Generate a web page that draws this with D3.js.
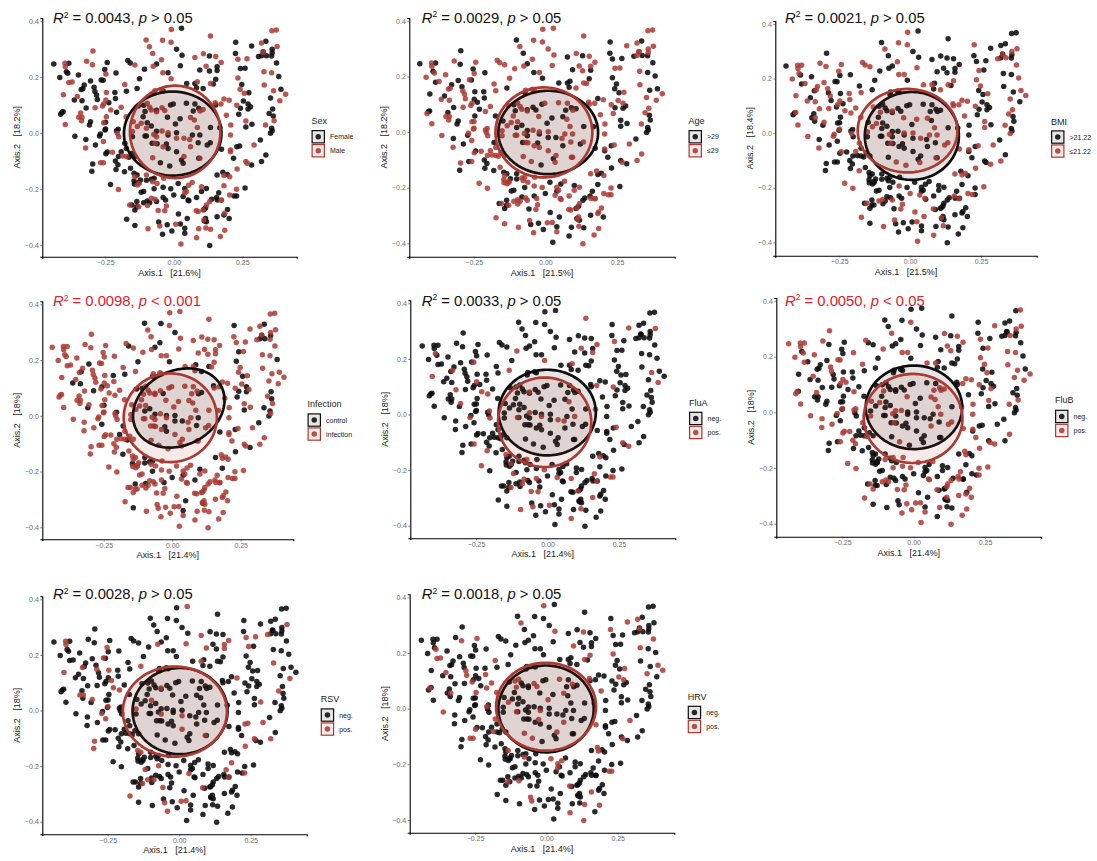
<!DOCTYPE html>
<html>
<head>
<meta charset="utf-8">
<title>PCoA panels</title>
<script src="https://cdn.jsdelivr.net/npm/d3@7"></script>
<style>
  body { margin: 0; background: #fff; }
  svg { display: block; font-family: "Liberation Sans", Arial, sans-serif; }
  text { white-space: pre; }
</style>
</head>
<body>
<svg id="chart" width="1097" height="861"></svg>
<script>
// ordination, [axis1, axis2]
var femaleSamples = [[-.438,.246],[-.383,.249],[-.392,.219],[-.387,.213],[-.416,.198],[-.348,.207],[-.243,.252],[-.252,.227],[-.211,.214],[-.304,.186],[-.327,.171],[-.332,.158],[-.338,.155],[-.291,.163],[-.288,.148],[-.363,.118],[-.335,.115],[-.282,.136],[-.279,.120],[-.265,.189],[-.258,.188],[-.215,.145],[-.213,.123],[-.237,.108],[-.320,.089],[-.209,.074],[-.408,.074],[-.404,.076],[-.413,.067],[-.304,.040],[-.308,.029],[-.361,-.012],[-.321,-.023],[-.286,-.043],[-.268,-.004],[-.271,-.011],[-.249,.014],[-.251,.011],[-.249,.038],[-.203,.013],[-.209,.008],[-.243,-.068],[-.248,-.074],[-.296,-.111],[-.299,-.137],[-.213,-.100],[-.202,-.084],[-.192,-.067],[-.211,-.130],[-.204,-.113],[-.180,-.138],[-.158,-.126],[-.231,-.184],
[-.168,.259],[-.159,.250],[-.107,.228],[-.125,.194],[-.173,.149],[-.134,.159],[-.063,.246],[.028,.374],[.010,.299],[.030,.278],[.024,.240],[-.021,.215],[.047,.177],[.077,.177],[.095,.225],[.130,.275],[.130,.221],[.158,.237],[.158,.223],[.153,.192],[.144,.175],[.083,.162],[.107,.159],[.226,.324],[.225,.284],[.284,.311],[.336,.328],[.326,.290],[.309,.273],[.320,.276],[.338,.276],[.357,.275],[.359,.299],[.359,.287],[.375,.250],[.383,.202],[.391,.156],[.353,.125],[.243,.230],[.260,.231],[.248,.173],[.274,.144],[.254,.114],[.243,.088],[.271,.104],[.280,.094],[.271,.086],[.237,.067],[.361,.086],[.348,.070],[.363,.061],[.285,.031],[.263,.021],[.357,.017],[.359,.008],[.353,-.001],[.316,-.025],[.230,-.049],[.240,-.046],[.218,-.090],[.336,-.079],[.320,-.102],[.284,-.114],[.260,-.196],[.220,-.225],[.229,-.225],[.196,-.273],[.183,-.293],[.202,-.305],
[-.130,.096],[-.110,.099],[-.105,.077],[-.063,.081],[-.012,.100],[-.002,.104],[.077,.104],[.071,.079],[.023,.051],[-.023,.056],[-.097,.037],[-.082,.025],[-.105,-.011],[-.100,-.011],[-.063,.006],[-.021,-.007],[.010,.001],[.006,.032],[.095,-.007],[.134,.020],[.168,.019],[.068,-.007],[.089,-.035],[.133,-.035],[.122,-.043],[-.027,-.039],[-.021,-.055],[-.061,-.038],[.010,-.067],[.028,-.096],[-.015,-.118],[-.049,-.106],[-.079,-.037],[.034,-.108],[.091,.088],[.046,.106],[-.112,.058],[-.071,.142],[-.039,.150],[.153,.100],[.174,-.058],[.091,-.090],[-.151,-.013],[-.179,-.037],[-.173,-.055],[-.155,-.073],[-.142,-.084],[-.164,-.087],
[-.145,-.144],[-.134,-.150],[-.145,-.171],[-.128,-.177],[-.144,-.182],[-.122,-.168],[-.100,-.169],[-.082,-.165],[-.072,-.162],[-.110,-.209],[-.119,-.212],[-.072,-.199],[-.039,-.194],[-.011,-.199],[.016,-.180],[.040,-.198],[-.135,-.245],[-.153,-.257],[-.135,-.263],[-.142,-.275],[-.110,-.249],[-.097,-.243],[-.088,-.249],[-.063,-.245],[-.039,-.230],[-.030,-.239],[0,-.221],[.034,-.227],[.052,-.239],[.055,-.242],[.083,-.230],[.101,-.209],[.119,-.198],[.138,-.237],[.156,-.230],[.159,-.239],[.164,-.213],[.116,-.267],[.110,-.273],[.158,-.150],[.179,-.140],[.195,-.148],[-.172,-.308],[-.142,-.330],[-.055,-.318],[-.024,-.328],[.017,-.289],[.049,-.305],[.024,-.325],[.040,-.340],[.040,-.358],[-.041,-.362],[-.007,-.350],[.116,-.305],[.119,-.317],[.112,-.314],[.158,-.299],[.131,-.402]];

var maleSamples = [[-.397,.249],[-.396,.237],[-.295,.293],[-.318,.256],[-.297,.244],[-.248,.211],[-.383,.180],[-.371,.182],[-.403,.137],[-.352,.130],[-.246,.145],[-.256,.104],[-.248,.118],[-.260,.096],[-.287,.090],[-.230,.082],[-.192,.092],[-.340,.071],[-.335,.056],[-.347,.056],[-.337,.044],[-.396,.030],[-.246,.058],[-.256,.037],[-.322,-.054],[-.257,-.030],[-.201,-.013],[-.206,-.001],[-.224,-.069],[-.267,-.106],[-.257,-.106],[-.186,-.082],[-.202,-.202],[-.179,.173],[-.142,.243],[-.077,.284],[-.089,.308],[-.101,.332],[-.041,.331],[-.009,.370],[-.010,.324],[.134,.346],[.077,.270],[.108,.283],[.153,.273],[.173,.252],[.118,.238],[-.045,.262],[-.075,.238],[-.040,.215],[-.010,.194],[.134,.177],[.086,.183],[.234,.263],[.267,.265],[.234,.196],[.242,.156],[.257,.142],[.320,.321],[.374,.368],[.358,.365],[.377,.309],[.327,.288],[.329,.219],[.357,.215],[.330,.171],[.364,.151],[.408,.138],[.387,.115],[.183,.121],[.202,.117],[.151,.108],[.172,.104],[.192,.063],[.230,.099],[.263,.043],[.335,.029],[.366,.044],[.293,-.043],[.207,-.061],[.207,-.067],[.263,-.102],[.268,-.108],[.231,-.129],[.204,-.156],[.183,-.152],[.229,-.201],[.204,-.221],[.174,-.239],[.183,-.188],[.101,-.192],[.067,-.177],[.054,-.187],[.046,-.209],[-.037,-.162],[-.077,-.174],[-.100,-.150],[-.133,-.186],[-.173,-.084],[-.061,-.180],[-.142,-.156],
[-.174,.058],[-.148,.040],[-.119,.035],[-.088,.092],[-.063,.076],[-.043,.090],[-.033,.080],[-.100,.017],[-.133,.023],[-.151,.005],[-.073,-.005],[-.063,-.013],[-.043,.007],[-.021,.001],[.010,-.019],[.037,-.019],[.058,-.023],[.086,.020],[.096,.079],[.107,.084],[.061,.055],[.075,.046],[-.068,-.037],[-.039,-.049],[.061,-.049],[-.077,-.088],[.095,-.090],[.037,-.084],[-.045,.154],[-.069,.151],[-.097,.106],[-.082,.082],[.207,-.007],[.208,.029],
[-.094,-.342],[-.051,-.332],[.007,-.326],[.083,-.374],[.091,-.342],[.117,-.339],[.134,-.344],[.170,-.370],[.186,-.347],[.026,-.396],[.186,-.287],[.110,-.311],[.082,-.278],[.089,-.280],[.107,-.275],[.131,-.245],[.119,-.257],[.173,-.240],[.040,-.213],[-.027,-.261],[-.057,-.277],[-.033,-.278],[-.096,-.259],[-.128,-.263],[-.161,-.257],[-.082,-.233],[-.069,-.237],[-.127,-.180]];

// samples seen in one colour in the other panels, the rest are in the other group
var olderSamples = [[-.434,.258],[-.378,.258],[-.387,.229],[-.382,.191],[-.399,.149],[-.414,.076],[-.405,.088],[-.347,.139],[-.329,.166],[-.323,.181],[-.300,.193],[-.288,.299],[-.291,.251],[-.255,.193],[-.245,.154],[-.243,.119],[-.249,.125],[-.234,.115],[-.228,.089],[-.244,.062],[-.210,.151],[-.208,.218],[-.247,.233],[-.316,.100],[-.337,.082],[-.302,.052],[-.307,.037],[-.323,-.013],[-.267,-.014],[-.288,-.035],[-.243,-.059],[-.304,-.130],[-.269,-.098],[-.216,-.097],[-.206,-.109],[-.216,-.128],[-.186,-.133],[-.173,.061],[-.131,.160],[-.092,.334],[-.070,.286],[-.056,.250],[-.035,.214],[-.010,.193],[.050,.173],[.092,.175],[.100,.187],[.084,.268],[.136,.271],[.098,.223],[.170,.185],[.160,.205],[.235,.317],[.233,.277],[.243,.256],[.273,.256],[.344,.317],[.315,.262],[.342,.269],[.366,.274],[.380,.238],[.359,.205],[.388,.190],[.369,.137],[.394,.142],[.255,.193],[.237,.190],[.243,.149],[.260,.133],[.284,.097],[.274,.091],[.245,.077],[.281,.058],[.263,.034],[.260,.011],[.350,.055],[.363,.046],[.363,.029],[.351,.001],[.350,-.011],[.313,-.037],[.234,-.055],[.202,-.067],[.214,-.103],[.241,-.113],[.252,-.113],[.276,-.128],[.251,-.206],[.170,-.161],[.179,-.164],[.184,-.199],[.165,-.221],[.151,-.223],[.144,-.239],[.144,-.245],[.112,-.266],[.100,-.278],[.170,-.299],[.187,-.314],[.150,-.305],[.144,-.317],[.100,-.319],[.074,-.347],[.067,-.379],[.010,-.401],[.031,-.343],[.037,-.307],[.005,-.290],[-.017,-.353],[-.037,-.329],[-.063,-.332],[-.071,-.278],[-.152,-.275],[-.144,-.242],[-.160,-.253],[-.137,-.257],[-.123,-.209],[-.112,-.216],[-.071,-.197],[-.079,-.233],[-.040,-.235],[-.007,-.223],[.031,-.215],[.008,-.182],[.060,-.188],[.092,-.191],[-.126,-.145],[-.147,-.143],[-.105,-.146],[-.129,-.169],[-.099,-.167],[-.123,.133],[-.088,.133],[-.106,.073],[-.071,.079],[-.045,.091],[-.036,.073],[-.010,.097],[.026,.052],[.069,.053],[.074,.079],[.100,.091],[.115,.067],[-.100,.025],[-.083,.022],[-.065,.016],[-.150,.029],[-.170,-.029],[-.079,-.029],[-.059,-.005],[-.030,-.005],[-.030,-.047],[.001,-.017],[.008,.019],[.037,-.023],[.057,-.053],[.121,-.041],[.156,-.047],[.167,.031],[.133,.013],[.026,-.089],[.005,-.107],[.086,.163],[.179,.115]];

var lowBmiSamples = [[-.395,.257],[-.380,.259],[-.388,.233],[-.386,.224],[-.413,.209],[-.368,.192],[-.327,.178],[-.336,.163],[-.402,.148],[-.361,.127],[-.336,.124],[-.315,.273],[-.294,.249],[-.252,.231],[-.242,.257],[-.303,.194],[-.291,.160],[-.278,.145],[-.319,.099],[-.287,.098],[-.254,.106],[-.245,.121],[-.231,.093],[-.213,.155],[-.219,.131],[-.213,.076],[-.192,.094],[-.405,.084],[-.398,.044],[-.330,.054],[-.310,.039],[-.362,.001],[-.325,-.044],[-.270,.001],[-.254,.021],[-.266,-.016],[-.247,-.061],[-.201,-.059],[-.205,-.007],[-.187,-.132],[-.239,-.176],[-.207,-.196],[-.181,-.304],[-.105,-.339],[-.064,-.312],[-.025,-.270],[-.042,-.278],[-.148,-.251],[-.119,-.243],[-.095,-.245],[-.072,-.261],[-.051,-.196],[-.009,-.217],[.007,-.294],[.038,-.306],[.016,-.328],[.013,-.399],[.071,-.379],[.099,-.318],[.108,-.349],[.069,-.282],[.026,-.233],[.044,-.245],[.148,-.221],[.167,-.251],[.207,-.233],[.219,-.233],[.252,-.206],[.148,-.160],[.167,-.154],[.193,-.135],[.242,-.111],[.275,-.127],[.313,-.111],[.289,-.051],[.247,-.070],[.219,-.056],[.193,.059],[.277,.061],[.258,.035],[.352,.005],[.346,.060],[.332,.011],[.383,.194],[.375,.242],[.389,.145],[.405,.127],[.367,.105],[.348,.118],[.228,.094],[.275,.139],[.249,.167],[.249,.206],[.246,.224],[.230,.320],[.314,.267],[.340,.270],[.379,.301],[.358,.294],[.329,.283],[.183,.118],[.167,.106],[.216,.124],[.138,.105],[.152,.188],[.136,.176],[.108,.163],[.075,.182],[.046,.176],[.028,.239],[-.019,.215],[-.039,.212],[-.001,.371],[-.004,.325],[-.038,.331],[-.087,.307],[-.042,.261],[-.139,.245],[-.166,.261],[-.158,.254],[-.172,.155],
[-.174,.054],[-.166,.017],[-.172,-.038],[-.136,.070],[-.109,.041],[-.136,.033],[-.080,-.005],[-.072,-.032],[-.066,.082],[-.095,.072],[-.016,.062],[.022,.052],[.064,.054],[.083,.017],[.081,-.013],[.091,-.013],[.089,-.090],[.119,-.038],[.125,-.032],[.026,-.107],[-.051,-.109],[-.031,-.123],[-.005,.011],[-.025,-.001],[.040,-.020],[.169,-.066],[.134,.133]];

var controlSamples = [[-.099,.334],[-.041,.334],[.009,.301],[-.045,.264],[-.065,.246],[-.155,.250],[-.123,.197],[-.015,.192],[-.300,.187],[-.332,.156],[-.214,.146],[-.172,.150],[-.357,.118],[-.331,.114],[-.264,.104],[-.285,.092],[-.246,.038],[-.306,.031],[-.201,.017],[-.265,-.022],[-.192,-.065],[-.182,-.040],[-.167,-.088],[-.110,-.115],[-.183,-.138],[-.145,-.172],[-.098,-.172],[-.082,-.169],[-.070,-.160],[-.067,-.214],[-.137,-.247],[-.096,-.245],[-.037,-.238],[-.001,-.222],[.040,-.214],[.073,-.232],[.099,-.192],[.177,-.184],[.154,-.154],[.044,-.307],[.107,-.322],[.038,-.342],[-.146,-.330],[.222,.322],[.329,.326],[.316,.284],[.323,.282],[.357,.284],[.345,.272],[.377,.200],[.238,.228],[.248,.209],[.250,.149],[.266,.101],[.242,.086],[.233,.065],[.278,.068],[.256,.020],[.354,.083],[.355,.056],[.329,.020],[.351,.014],[.345,-.001],[.310,-.026],[.223,-.049],[.229,-.130],[.278,-.120],[.094,.194],[.138,.179],[.101,.140],[.128,.116],[.101,.089],[.111,.074],[-.061,.122],[-.035,.078],[-.139,.078],[-.106,.098],[-.099,.024],[-.086,.024],[-.070,.014],[-.024,0],[.006,-.006],[.006,-.018],[.044,-.016],[.087,-.012],[.087,-.040],[-.027,-.058],[-.027,-.043],[.168,-.028]];

var fluAPositive = [[.133,.344],[.281,.311],[.373,.308],[.233,.260],[.173,.257],[.117,.239],[.161,.221],[.085,.184],[-.016,.197],[-.105,.232],[-.393,.223],[-.261,.191],[-.331,.163],[-.401,.139],[-.133,.160],[-.251,.119],[-.319,.092],[-.230,.085],[-.209,.076],[-.304,.042],[-.198,.011],[-.267,-.017],[-.204,-.016],[-.072,.080],[-.072,.011],[-.111,-.011],[-.022,-.023],[.038,-.016],[.054,-.025],[.073,.038],[.097,-.011],[.152,.017],[.170,.104],[.229,.098],[.361,.149],[.385,.113],[.254,-.061],[.243,-.103],[.280,-.115],[.182,-.155],[.173,-.223],[.170,-.241],[.219,-.226],[.226,-.226],[-.259,-.104],[-.212,-.130],[-.233,-.184],[-.146,-.145],[-.133,-.169],[-.119,-.211],[-.127,-.262],[-.084,-.229],[-.084,-.253],[-.070,-.275],[-.061,-.280],[-.044,-.223],[-.016,-.203],[-.058,-.145],[.035,-.227],[.079,-.233],[.105,-.280],[.157,-.301],[-.096,-.343],[-.052,-.334],[.005,-.328],[.117,-.343],[.079,-.378]];

var fluBPositive = [[-.438,.246],[-.396,.246],[-.381,.248],[-.396,.234],[-.389,.215],[-.416,.199],[-.348,.209],[-.384,.182],[-.294,.293],[-.318,.258],[-.263,.191],[-.254,.188],[-.209,.211],[-.179,.175],[-.167,.260],[-.290,.164],[-.294,.152],[-.349,.131],[-.252,.119],[-.258,.104],[-.244,.102],[-.338,.072],[-.209,.074],[-.411,.078],[-.416,.066],[-.397,.032],[-.364,-.012],[-.325,-.022],[-.322,-.054],[-.287,-.042],[-.270,0],[-.249,.017],[-.193,.005],[-.197,.011],[-.182,-.028],[-.250,-.066],[-.241,-.070],[-.223,-.067],[-.258,-.106],[-.215,-.100],[-.204,-.112],[-.235,-.186],[-.204,-.203],[-.165,-.088],[-.174,-.312],[-.155,-.259],[-.145,-.277],[-.100,-.250],[-.085,-.259],[-.112,-.253],[-.036,-.276],[-.057,-.288],[-.025,-.259],[-.071,-.202],[-.044,-.196],[-.019,-.202],[.046,-.238],[.051,-.244],[.081,-.282],[.112,-.268],[.121,-.262],[.130,-.252],[.151,-.241],[.157,-.232],[.176,-.216],[.110,-.304],[.153,-.304],[.192,-.277],[.182,-.292],[.197,-.310],[-.028,-.334],[.005,-.330],[.022,-.330],[-.046,-.366],[-.011,-.354],[.037,-.361],[.022,-.400],[.084,-.348],[.145,-.370],[.180,-.354],[.168,-.378],
[-.077,.284],[-.009,.326],[.107,.282],[.151,.270],[.173,.254],[.116,.239],[.130,.221],[.075,.176],[.048,.179],[-.042,.218],[-.022,.218],[-.112,.245],[.232,.260],[.260,.233],[.230,.192],[.283,.311],[.357,.299],[.375,.308],[.369,.365],[.338,.275],[.326,.217],[.353,.212],[.329,.170],[.362,.149],[.405,.134],[.384,.112],[.346,.128],[.361,.042],[.334,.026],[.262,.041],[.271,.086],[.244,.170],[.253,.146],[.227,.098],[.201,.114],[.180,.119],[.171,.102],[.116,.110],[.081,.089],[.063,.080],[.098,.074],[.112,.072],[.065,.053],[.078,.020],[.089,-.004],[.153,.018],[.174,.014],[.206,-.010],[.174,-.066],[.206,-.060],[.217,-.094],[.209,-.126],[.172,-.130],[.178,-.148],[.227,-.205],[.258,-.199],[.232,-.228],[.285,-.121],[.332,-.082],[.276,-.102],
[-.112,.074],[-.135,.044],[-.118,.032],[-.135,-.028],[-.074,-.010],[-.081,.005],[-.046,.005],[-.065,-.034],[-.019,.062],[.063,-.052],[-.028,-.148],[-.077,-.160],[-.100,-.172],[-.054,-.139],[.046,-.154],[-.007,-.166],[.121,-.028],[.121,-.046]];

var rsvPositive = [[.028,.374],[-.395,.248],[-.395,.236],[-.250,.229],[-.262,.191],[-.075,.240],[.023,.242],[.077,.272],[.094,.224],[.157,.236],[.161,.218],[.173,.254],[.233,.260],[.264,.263],[.229,.222],[.307,.270],[.374,.308],[.330,.170],[.073,.176],[.202,.116],[.384,.112],[.349,.068],[.282,.029],[.247,-.048],[.252,-.061],[.293,-.046],[.318,-.106],[.254,-.102],[.229,-.127],[.199,-.196],[.176,-.214],[.231,-.228],[.173,-.244],[-.174,-.310],[-.055,-.334],[.003,-.330],[.022,-.330],[-.043,-.366],[.079,-.282],[-.061,-.282],[-.084,-.253],[-.127,-.264],[-.111,-.250],[.036,-.229],[-.064,-.198],[-.117,-.214],[-.148,-.145],[-.132,-.154],[-.401,.138],[-.335,.155],[-.294,.152],[-.247,.146],[-.236,.110],[-.230,.083],[-.209,.073],[-.346,.059],[-.339,.059],[-.304,.041],[-.251,.014],[-.265,-.025],[-.255,-.028],[-.177,0],[-.096,.042],[-.066,.083],[-.063,-.022],[.003,-.022],[.003,-.052],[.091,-.094],[-.300,-.112],[-.300,-.136],[-.133,.155]];

var hrvPositive = [[-.008,.370],[-.086,.307],[.030,.277],[.130,.275],[.095,.226],[.153,.193],[.135,.175],[.225,.283],[.225,.193],[.281,.310],[.317,.317],[.326,.286],[.328,.217],[.375,.247],[.389,.151],[.406,.134],[.352,.125],[.276,.143],[.255,.114],[.281,.106],[.190,.061],[.151,.106],[.044,.107],[.100,.091],[.065,.052],[.011,.025],[-.057,.109],[-.040,.091],[-.090,.109],[-.107,.073],[-.121,.127],[-.176,.175],[-.279,.139],[-.281,.121],[-.214,.125],[-.347,.130],[-.384,.181],[-.370,.184],[-.390,.215],[-.297,.245],[-.244,.253],[-.260,.100],[-.244,.059],[-.209,.073],[-.192,.094],[-.408,.077],[-.329,.049],[-.363,-.011],[-.211,.010],[-.171,.059],[-.125,.019],[-.107,-.011],[-.022,-.020],[-.028,-.043],[.060,-.053],[-.168,-.038],[-.250,-.073],[-.267,-.107],[-.256,-.107],[-.189,-.092],[-.078,-.089],[-.048,-.110],[.039,-.089],[.174,-.064],[.291,-.044],[.264,-.107],[.174,-.145],[.185,-.157],[.217,-.227],[.230,-.227],[.013,-.182],[.021,-.181],[.050,-.188],[.039,-.218],[-.077,-.185],[-.121,-.146],[-.098,-.260],[-.145,-.263],[.079,-.282],[.159,-.305],[-.057,-.319],[-.053,-.335],[.127,-.350],[.182,-.353],[.079,-.379],[.126,-.408]];

// panel texts
var factorNames = ["Sex", "Age", "BMI", "Infection", "FluA", "FluB", "RSV", "HRV"];
var groupLabels = [["Female", "Male"], [">29", "≤29"], [">21.22", "≤21.22"], ["control", "infection"], ["neg.", "pos."], ["neg.", "pos."], ["neg.", "pos."], ["neg.", "pos."]];
var r2Values = ["0.0043", "0.0029", "0.0021", "0.0098", "0.0033", "0.0050", "0.0028", "0.0018"];
var pTexts = ["> 0.05", "> 0.05", "> 0.05", "< 0.001", "> 0.05", "< 0.05", "> 0.05", "> 0.05"];
var axis1Percents = ["21.6", "21.5", "21.5", "21.4", "21.4", "21.4", "21.4", "21.4"];
var axis2Percents = ["18.2", "18.2", "18.4", "18", "18", "18", "18", "18"];
var xTicks = [-0.25, 0, 0.25];
var yTicks = [-0.4, -0.2, 0, 0.2, 0.4];

// group ellipses per panel, [center1, center2, radius1, radius2, skew]
var blackEllipses = [[-.004,-.002,.178,.150,0],[.010,-.001,.174,.150,0],[.006,-.010,.166,.161,0],[.024,.028,.167,.142,.2],[-.001,.007,.170,.154,0],[.001,.018,.169,.150,0],[.003,-.002,.166,.155,0],[-.001,-.001,.167,.156,0]];
var redEllipses = [[.005,.004,.165,.165,0],[-.005,-.001,.169,.162,0],[-.009,.009,.176,.153,0],[-.007,-.007,.170,.159,0],[-.010,-.028,.163,.161,0],[-.002,-.022,.173,.160,0],[-.015,-.004,.182,.162,0],[-.001,.007,.175,.158,0]];

var markedSamples = [maleSamples, olderSamples, lowBmiSamples, controlSamples, fluAPositive, fluBPositive, rsvPositive, hrvPositive];
var markedGroup = [1, 0, 1, 0, 1, 1, 1, 1];

// page layout: axis left, right, bottom, then pixel of x -0.25, x 0.25, y -0.4, y 0.4
var panelBoxes = [
  [42.3, 296.7, 256.7, 105.3, 242.3, 245, 21],
  [409.3, 674.7, 256.7, 473.7, 617, 243.3, 21],
  [775.3, 1036.7, 255.7, 839.3, 981, 242.3, 24],
  [42.3, 293.3, 539.3, 103.7, 240.7, 527.3, 304.3],
  [410.3, 675.3, 538.3, 476, 619, 525.7, 303.3],
  [776.3, 1041, 536.7, 842.3, 985, 523.7, 301],
  [42.3, 306.7, 834.3, 107.7, 250.7, 821.7, 599.3],
  [409.7, 674.3, 832.7, 475, 617.7, 820, 597.3]
];
// title x, title baseline, legend x, legend title baseline, first key top
var labelBoxes = [
  [53, 23, 311.5, 124, 130],
  [421.7, 22.7, 688.5, 124, 130],
  [785, 22.7, 1051, 125, 130.3],
  [53, 306, 307.5, 406.7, 413.3],
  [421.7, 305.7, 689, 406, 411.7],
  [785, 305.7, 1055, 403.3, 409.7],
  [53, 599, 320.7, 701.7, 708.3],
  [421.7, 599, 687.7, 700, 705.7]
];

var colors = ["#0d0d0d", "#ac3a33"];
var fontAxis = 7, keySize = 13.5, pointRadius = 2.75;

var allSamples = femaleSamples.concat(maleSamples);

// find the listed samples among allSamples, nearest point wins
function assignGroups(marked, group) {
  var groups = allSamples.map(function() { return 1 - group; });
  var taken = allSamples.map(function() { return false; });
  marked.forEach(function(m) {
    var best = -1, bestDist = Infinity;
    allSamples.forEach(function(s, i) {
      if (taken[i]) return;
      var dist = Math.pow(s[0] - m[0], 2) + Math.pow(s[1] - m[1], 2);
      if (dist < bestDist) { bestDist = dist; best = i; }
    });
    taken[best] = true;
    groups[best] = group;
  });
  return groups;
}

function ellipsePoints(e) {
  return d3.range(0, 2 * Math.PI + 0.05, 0.05).map(function(t) {
    return [e[0] + e[2] * Math.cos(t), e[1] + e[3] * Math.sin(t + e[4])];
  });
}

var svg = d3.select("#chart");

factorNames.forEach(function(name, p) {
  var box = panelBoxes[p], lab = labelBoxes[p];
  var xBase = d3.scaleLinear().domain([-0.25, 0.25]).range([box[3], box[4]]);
  var yBase = d3.scaleLinear().domain([-0.4, 0.4]).range([box[5], box[6]]);
  var xScale = d3.scaleLinear().domain([xBase.invert(box[0]), xBase.invert(box[1])]).range([box[0], box[1]]);
  var yScale = d3.scaleLinear().domain([yBase.invert(box[2]), yBase.invert(box[6] - 3)]).range([box[2], box[6] - 3]);
  var g = svg.append("g").attr("class", "panel");

  // points, black group first
  var groups = assignGroups(markedSamples[p], markedGroup[p]);
  var rows = allSamples.map(function(s, i) { return { x: s[0], y: s[1], group: groups[i] }; });
  rows.sort(function(a, b) { return a.group - b.group; });
  g.append("g").selectAll("circle").data(rows).enter().append("circle")
    .attr("cx", function(d) { return xScale(d.x); })
    .attr("cy", function(d) { return yScale(d.y); })
    .attr("r", pointRadius)
    .attr("fill", function(d) { return colors[d.group]; })
    .attr("fill-opacity", function(d) { return d.group ? 0.85 : 0.88; });

  // ellipses
  var line = d3.line().x(function(d) { return xScale(d[0]); }).y(function(d) { return yScale(d[1]); });
  [blackEllipses[p], redEllipses[p]].forEach(function(e, i) {
    g.append("path")
      .attr("d", line(ellipsePoints(e)) + "Z")
      .attr("fill", colors[i])
      .attr("fill-opacity", 0.1)
      .attr("stroke", colors[i])
      .attr("stroke-width", 2.7);
  });

  // axes
  var xAxis = d3.axisBottom(xScale).tickValues(xTicks).tickSize(2).tickPadding(1.5).tickFormat(d3.format(".2f"));
  var yAxis = d3.axisLeft(yScale).tickValues(yTicks).tickSize(2).tickPadding(1.5).tickFormat(d3.format(".1f"));
  var xG = g.append("g").attr("transform", "translate(0," + box[2] + ")").call(xAxis);
  var yG = g.append("g").attr("transform", "translate(" + box[0] + ",0)").call(yAxis);
  [xG, yG].forEach(function(a) {
    a.attr("font-family", null).attr("font-size", fontAxis);
    a.select(".domain").attr("stroke", "#000").attr("stroke-width", 1.1);
    a.selectAll(".tick line").attr("stroke", "#333").attr("stroke-width", 0.6);
    a.selectAll(".tick text").attr("fill", "#6e6e6e");
  });

  // axis titles
  g.append("text")
    .attr("x", (box[0] + box[1]) / 2).attr("y", box[2] + 19)
    .attr("text-anchor", "middle").attr("font-size", 9).attr("fill", "#222")
    .text("Axis.1   [" + axis1Percents[p] + "%]");
  g.append("text")
    .attr("transform", "translate(" + (box[0] - 22) + "," + ((box[2] + box[6] - 3) / 2) + ") rotate(-90)")
    .attr("text-anchor", "middle").attr("font-size", 9).attr("fill", "#222")
    .text("Axis.2   [" + axis2Percents[p] + "%]");

  // title, the two significant panels in red
  var titleColor = pTexts[p].charAt(0) === "<" ? "#e2202c" : "#111";
  var title = g.append("text").attr("x", lab[0]).attr("y", lab[1]).attr("font-size", 14.8).attr("fill", titleColor);
  title.append("tspan").attr("font-style", "italic").text("R");
  title.append("tspan").attr("font-size", 8.5).attr("dy", -5.5).text("2");
  title.append("tspan").attr("dy", 5.5).text(" = " + r2Values[p] + ", ");
  title.append("tspan").attr("font-style", "italic").text("p");
  title.append("tspan").text(" " + pTexts[p]);

  // legend
  g.append("text").attr("x", lab[2]).attr("y", lab[3]).attr("font-size", 9).attr("fill", "#222").text(name);
  groupLabels[p].forEach(function(label, i) {
    var top = lab[4] + i * 14;
    g.append("rect").attr("x", lab[2] + 0.6).attr("y", top + 0.6).attr("width", keySize - 1.2).attr("height", keySize - 1.2)
      .attr("fill", colors[i]).attr("fill-opacity", 0.1).attr("stroke", colors[i]).attr("stroke-width", 1.2);
    g.append("circle").attr("cx", lab[2] + keySize / 2).attr("cy", top + keySize / 2).attr("r", pointRadius)
      .attr("fill", colors[i]).attr("fill-opacity", 0.88);
    g.append("text").attr("x", lab[2] + 18.5).attr("y", top + keySize / 2 + 2.5).attr("font-size", 7).attr("fill", "#222").text(label);
  });
});
</script>
</body>
</html>
